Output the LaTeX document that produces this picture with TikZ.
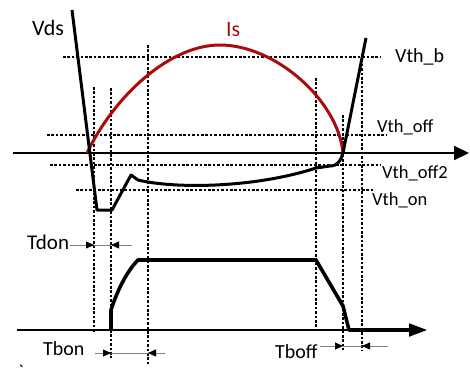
\documentclass[tikz,border=0pt]{standalone}
\usepackage{fontspec}
\setmainfont{Carlito}
\usepackage{xcolor}
\usetikzlibrary{arrows.meta}

\definecolor{isred}{RGB}{168,12,12}

\begin{document}
\begin{tikzpicture}[
  x=1pt, y=-1pt,
  axis/.style={line width=2pt, -{Triangle[length=15pt,width=14pt]}},
  guide/.style={line width=1.2pt, dash pattern=on 2.6pt off 1.8pt},
  wave/.style={line width=3pt, line join=round},
  ib/.style={line width=3.6pt, line join=round},
  dimline/.style={line width=0.8pt, draw=black!50},
  dim/.style={dimline, -{Triangle[length=8pt,width=7pt,color=black]}},
  lbl/.style={anchor=base west, inner sep=0pt, font=\fontsize{20}{24}\selectfont},
  th/.style={anchor=base west, inner sep=0pt, font=\fontsize{18.5}{22}\selectfont}
]
\useasboundingbox (0,0) rectangle (470,382);

% axes
\coordinate (ta0) at (13,153);
\coordinate (ta1) at (469,153);
\coordinate (ba0) at (17,330);
\coordinate (ba1) at (427,330);

% vertical guides
\foreach \n/\x/\a/\b in {g1/94/87/332, g2/111/88/358, g3/148/45/366,
                         g4/316/78/330, g5/343/115/350, g6/362/55/350} {
  \coordinate (\n t) at (\x,\a);
  \coordinate (\n b) at (\x,\b);
  \draw[guide] (\n t) -- (\n b);
}

% threshold guides
\foreach \n/\y/\a/\b in {hb/57/63/380, hoff/135/47/387,
                         hoff2/165/50/381, hon/190/76/373} {
  \coordinate (\n l) at (\a,\y);
  \coordinate (\n r) at (\b,\y);
  \draw[guide] (\n l) -- (\n r);
}

\draw[axis] (ta0) -- (ta1);
\draw[axis, -{Triangle[length=18pt,width=13pt]}] (ba0) -- (ba1);

% Is
\coordinate (is0) at (87,153);
\coordinate (ispk) at (220,45);
\coordinate (is1) at (343,153);
\draw[isred, wave] (is0) .. controls (115,95) and (170,45) .. (ispk)
  .. controls (275,45) and (338,100) .. (is1);

% Vds
\draw[wave] (72,10) -- (97,210) -- (112,210) -- (131,175) -- (138,180)
  .. controls (175,189) and (255,188) .. (316,168) -- (330,166)
  .. controls (338,166) and (341,160) .. (is1) -- (366,38);

% bottom waveform
\draw[ib] (111,330) -- (111,310) .. controls (117,291) and (127,271) .. (138,260)
  -- (316,260) -- (343,306) -- (349,330) -- (411,330);

% labels
\node[lbl, font=\fontsize{22}{26}\selectfont] (vds) at (32,36) {Vds};
\node[lbl, font=\fontsize{22}{26}\selectfont, text=isred] (is) at (226,37) {Is};
\node[lbl] (lvb) at (395,63) {Vth\_b};
\node[th] (loff) at (377,132) {Vth\_off};
\node[th] (loff2) at (382,178) {Vth\_off2};
\node[th] (lon) at (372,205) {Vth\_on};
\node[lbl, font=\fontsize{21}{24}\selectfont] (tdon) at (27,249) {Tdon};
\node[lbl] (tbon) at (43,355) {Tbon};
\node[lbl] (tboff) at (275,358) {Tboff};
\node[font=\fontsize{18}{20}\selectfont, inner sep=0pt] (tick) at (21,371) {\textasciigrave};

% time intervals
\coordinate (don0) at (70,245);
\coordinate (don1) at (132,245);
\draw[dimline] (don0 -| g1t) -- (don1 -| g2t);
\draw[dim] (don0) -- (don0 -| g1t);
\draw[dim] (don1) -- (don1 -| g2t);

\coordinate (bon0) at (95,353);
\coordinate (bon1) at (165,353);
\draw[dimline] (bon0 -| g2t) -- (bon1 -| g3t);
\draw[dim] (bon0) -- (bon0 -| g2t);
\draw[dim] (bon1) -- (bon1 -| g3t);

\coordinate (boff0) at (320,346);
\coordinate (boff1) at (388,346);
\draw[dimline] (boff0 -| g5t) -- (boff1 -| g6t);
\draw[dim] (boff0) -- (boff0 -| g5t);
\draw[dim] (boff1) -- (boff1 -| g6t);
\end{tikzpicture}
\end{document}
